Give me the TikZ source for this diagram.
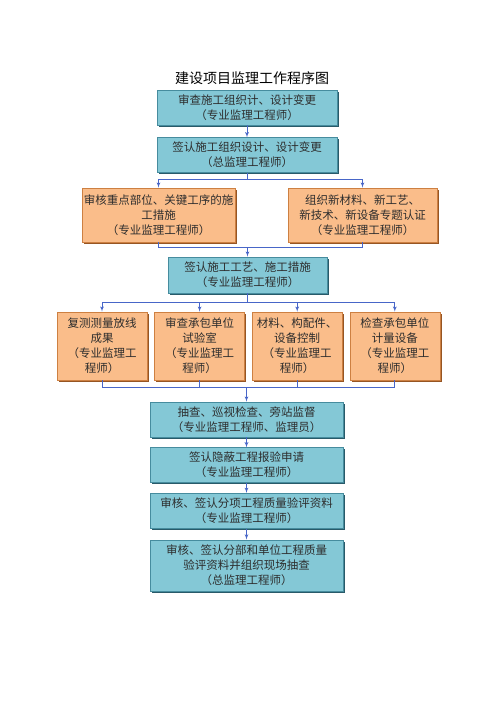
\documentclass[tikz,border=0pt]{standalone}
\usepackage{fontspec}
\setmainfont{Noto Sans CJK SC}
\usetikzlibrary{shapes,arrows,positioning,shadows}
\definecolor{tealfill}{RGB}{132,200,214}
\definecolor{tealedge}{RGB}{70,140,158}
\definecolor{tealshade}{RGB}{40,90,105}
\definecolor{orangefill}{RGB}{250,189,138}
\definecolor{orangeedge}{RGB}{205,128,66}
\definecolor{orangeshade}{RGB}{150,85,35}
\definecolor{linkblue}{RGB}{72,102,200}
\definecolor{inktext}{RGB}{45,45,45}

\begin{document}
\begin{tikzpicture}
\tikzstyle{box} = [rectangle, draw, align=center, inner xsep=1pt, inner ysep=2pt,
    text=inktext, font=\fontsize{11.5}{15}\selectfont, line width=0.6pt]
\tikzstyle{bluebox} = [box, fill=tealfill, draw=tealedge,
    general shadow={fill=tealshade, shadow xshift=1.8pt, shadow yshift=-1.8pt}]
\tikzstyle{orangebox} = [box, fill=orangefill, draw=orangeedge,
    general shadow={fill=orangeshade, shadow xshift=1.8pt, shadow yshift=-1.8pt}]
\tikzstyle{small} = [orangebox, minimum width=90pt, minimum height=68pt]
\tikzstyle{conn} = [draw, linkblue, line width=0.8pt]
\tikzstyle{line} = [conn, -latex']

\useasboundingbox (0,0) rectangle (500pt,-707pt);

\node [font=\fontsize{14}{17}\selectfont, text=black] (title) at (252pt,-78pt) {建设项目监理工作程序图};

\node [bluebox, minimum width=180pt, minimum height=35pt] (check) at (247pt,-107.5pt)
    {审查施工组织计、设计变更\\（专业监理工程师）};
\node [bluebox, minimum width=180pt, minimum height=35pt, below=12pt of check] (sign)
    {签认施工组织设计、设计变更\\（总监理工程师）};

\node [orangebox, minimum width=153pt, minimum height=54pt] (keywork) at (158.5pt,-215pt)
    {审核重点部位、关键工序的施\\工措施\\（专业监理工程师）};
\node [orangebox, minimum width=149pt, minimum height=54pt] (newtech) at (362.5pt,-215pt)
    {组织新材料、新工艺、\\新技术、新设备专题认证\\（专业监理工程师）};

\node [bluebox, minimum width=159pt, minimum height=36pt] (craft) at (247.5pt,-275pt)
    {签认施工工艺、施工措施\\（专业监理工程师）};

\node [small] (survey) at (102pt,-346pt) {复测测量放线\\成果\\（专业监理工\\程师）};
\node [small, right=7pt of survey] (lab) {审查承包单位\\试验室\\（专业监理工\\程师）};
\node [small, right=7pt of lab] (control) {材料、构配件、\\设备控制\\（专业监理工\\程师）};
\node [small, right=7pt of control] (meter) {检查承包单位\\计量设备\\（专业监理工\\程师）};

\node [bluebox, minimum width=193pt, minimum height=35pt] (inspect) at (246.5pt,-419.5pt)
    {抽查、巡视检查、旁站监督\\（专业监理工程师、监理员）};
\node [bluebox, minimum width=193pt, minimum height=35pt, below=10pt of inspect] (hidden)
    {签认隐蔽工程报验申请\\（专业监理工程师）};
\node [bluebox, minimum width=193pt, minimum height=35pt, below=10pt of hidden] (subitem)
    {审核、签认分项工程质量验评资料\\（专业监理工程师）};
\node [bluebox, minimum width=193pt, minimum height=51pt, below=11pt of subitem] (accept)
    {审核、签认分部和单位工程质量\\验评资料并组织现场抽查\\（总监理工程师）};

\path (sign.south) ++(0,-6pt) coordinate (fork1);
\path (craft.north) ++(0,9pt) coordinate (join1);
\path (craft.south) ++(0,-9pt) coordinate (fork2);
\path (inspect.north) ++(0,14pt) coordinate (join2);

\path [line] (check) -- (sign);

\path [line] (sign.south) -- (fork1) -| (keywork.north);
\path [line] (sign.south) -- (fork1) -| (newtech.north);

\path [conn] (keywork.south) |- (join1) -| (newtech.south);
\path [line] (join1) -- (craft.north);

\path [line] (craft.south) -- (fork2) -| (survey.north);
\path [line] (craft.south) -- (fork2) -| (lab.north);
\path [line] (craft.south) -- (fork2) -| (control.north);
\path [line] (craft.south) -- (fork2) -| (meter.north);

\path [conn] (survey.south) |- (join2) -| (meter.south);
\path [conn] (lab.south) -- (lab.south |- join2);
\path [conn] (control.south) -- (control.south |- join2);
\path [line] (join2) -- (inspect.north);

\path [line] (inspect) -- (hidden);
\path [line] (hidden) -- (subitem);
\path [line] (subitem) -- (accept);

\end{tikzpicture}
\end{document}
